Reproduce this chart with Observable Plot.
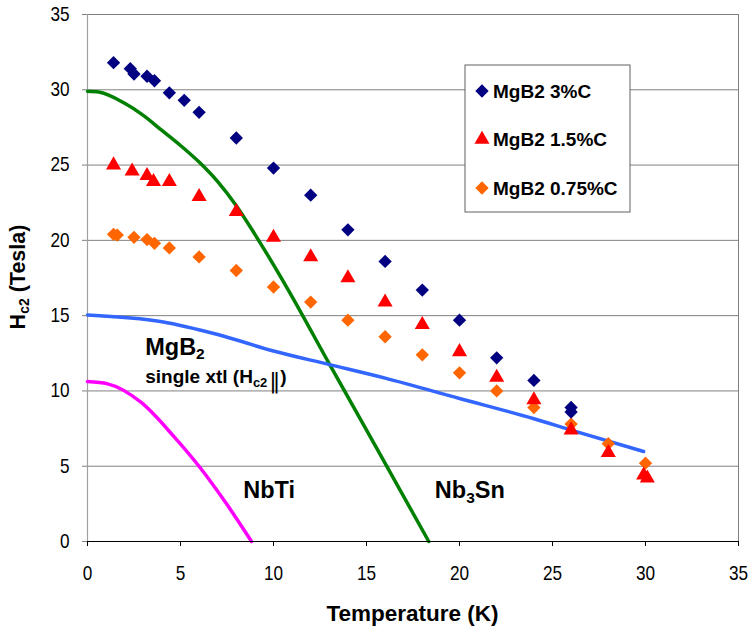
<!DOCTYPE html>
<html>
<head>
<meta charset="utf-8">
<script src="https://cdn.jsdelivr.net/npm/d3@7"></script>
<script src="https://cdn.jsdelivr.net/npm/@observablehq/plot@0.6"></script>
<style>
  html, body { margin: 0; padding: 0; background: #fff; }
  #chart { width: 751px; height: 627px; }
  svg text { font-family: "Liberation Sans", Arial, sans-serif; }
</style>
</head>
<body>
<div id="chart"></div>
<script>
// ---- data ----
const xTicks = [0, 5, 10, 15, 20, 25, 30, 35];
const yTicks = [0, 5, 10, 15, 20, 25, 30, 35];

const seriesNames = ["MgB2 3%C", "MgB2 1.5%C", "MgB2 0.75%C"];
const seriesColors = ["#000080", "#ff0000", "#ff6600"];
const seriesSymbols = ["diamond2", "triangle", "diamond2"];

const temp3C = [1.4, 2.3, 2.5, 3.2, 3.6, 4.4, 5.2, 6.0, 8.0, 10.0, 12.0, 14.0, 16.0, 18.0, 20.0, 22.0, 24.0, 26.0, 26.0];
const hc2_3C = [31.8, 31.4, 31.05, 30.9, 30.6, 29.8, 29.3, 28.5, 26.8, 24.8, 23.0, 20.7, 18.6, 16.7, 14.7, 12.2, 10.7, 8.9, 8.6];

const temp15C = [1.4, 2.4, 3.2, 3.55, 4.4, 6.0, 8.0, 10.0, 12.0, 14.0, 16.0, 18.0, 20.0, 22.0, 24.0, 26.0, 28.0, 29.9, 30.1];
const hc2_15C = [25.0, 24.6, 24.3, 23.9, 23.9, 22.9, 21.9, 20.2, 18.9, 17.5, 15.9, 14.4, 12.6, 10.9, 9.4, 7.4, 5.9, 4.4, 4.2];

const temp075C = [1.4, 1.6, 2.5, 3.2, 3.6, 4.4, 6.0, 8.0, 10.0, 12.0, 14.0, 16.0, 18.0, 20.0, 22.0, 24.0, 26.0, 28.0, 30.0];
const hc2_075C = [20.4, 20.35, 20.2, 20.05, 19.8, 19.5, 18.9, 18.0, 16.9, 15.9, 14.7, 13.6, 12.4, 11.2, 10.0, 8.9, 7.8, 6.5, 5.2];

// curves
const nb3snT = [0, 0.6, 2, 3, 4, 5, 6, 7, 8, 9, 10.75, 13.0, 15.5, 18.35];
const nb3snH = [29.9, 29.85, 29.1, 28.3, 27.3, 26.3, 25.2, 23.9, 22.3, 20.4, 16.8, 11.8, 6.3, 0];

const xtlT = [0, 4, 7, 10, 13, 16, 20, 24, 26, 29.9];
const xtlH = [15.05, 14.6, 13.75, 12.65, 11.75, 10.85, 9.5, 8.15, 7.4, 5.98];

const nbtiT = [0, 1.08, 2.87, 4.66, 6.09, 7.53, 8.82];
const nbtiH = [10.62, 10.47, 9.25, 6.95, 4.85, 2.4, 0];

const curveColors = {nbti: "#ff00ff", nb3sn: "#008000", xtl: "#3366ff"};

// ---- build tables ----
const pts = (T, H) => T.map((t, i) => ({T: t, H: H[i]}));

const R_DIAMOND = 6.0, R_TRI = 5.6;
const radii = seriesSymbols.map(s => s === "triangle" ? R_TRI : R_DIAMOND);
const seriesData = [pts(temp3C, hc2_3C), pts(temp15C, hc2_15C), pts(temp075C, hc2_075C)];
const drawOrder = [2, 1, 0];

const plot = Plot.plot({
  width: 751,
  height: 627,
  marginLeft: 87,
  marginRight: 13,
  marginTop: 14,
  marginBottom: 86,
  style: {background: "#fff", overflow: "visible"},
  x: {domain: [0, 35]},
  y: {domain: [0, 35]},
  marks: [
    Plot.gridY(yTicks, {stroke: "#808080", strokeOpacity: 1, strokeWidth: 1}),
    Plot.ruleX([0], {stroke: "#a0a0a0", strokeWidth: 1.2}),
    Plot.ruleX([35], {stroke: "#808080", strokeWidth: 1}),
    Plot.line(pts(nbtiT, nbtiH), {x: "T", y: "H", stroke: curveColors.nbti, strokeWidth: 3.5, curve: "monotone-x"}),
    Plot.line(pts(nb3snT, nb3snH), {x: "T", y: "H", stroke: curveColors.nb3sn, strokeWidth: 3.5, curve: "monotone-x"}),
    Plot.line(pts(xtlT, xtlH), {x: "T", y: "H", stroke: curveColors.xtl, strokeWidth: 3.5, curve: "monotone-x"}),
    ...drawOrder.map(i => Plot.dot(seriesData[i], {
      x: "T", y: "H", symbol: seriesSymbols[i], fill: seriesColors[i], stroke: "none", r: radii[i]
    })),
    Plot.ruleY([0], {stroke: "#000", strokeWidth: 1.2}),
    Plot.axisX(xTicks, {tickSize: 5, tickPadding: 19, fontSize: 20, label: null, stroke: "#000", fill: "#000"}),
    Plot.axisY(yTicks, {tickSize: 5, tickPadding: 13, fontSize: 20, label: null, stroke: "#808080", fill: "#000"})
  ]
});

document.getElementById("chart").appendChild(plot);

const svg = d3.select(plot);
const sx = plot.scale("x"), sy = plot.scale("y");

// squeeze tick labels horizontally to match the reference's narrow numerals
svg.selectAll('g[aria-label="x-axis tick label"] text, g[aria-label="y-axis tick label"] text')
  .each(function() {
    const t = d3.select(this);
    t.attr("transform", (t.attr("transform") || "") + " scale(0.86,1)");
  });

const FONT = '"Liberation Sans", Arial, sans-serif';

// axis titles
svg.append("text")
  .attr("x", (87 + 738) / 2).attr("y", 621)
  .attr("text-anchor", "middle")
  .attr("font-family", FONT).attr("font-weight", "bold").attr("font-size", 22.5)
  .text("Temperature (K)");

const yt = svg.append("text")
  .attr("transform", "translate(25,277) rotate(-90)")
  .attr("text-anchor", "middle")
  .attr("font-family", FONT).attr("font-weight", "bold").attr("font-size", 21.5);
yt.append("tspan").text("H");
yt.append("tspan").attr("font-size", 14).attr("dy", 4).text("c2");
yt.append("tspan").attr("dy", -4).text(" (Tesla)");

// annotations (anchored in data coordinates)
const annotations = [
  {key: "mgb2", T: 3.13, H: 12.35},
  {key: "xtl", T: 3.13, H: 10.5},
  {key: "nbti", T: 8.4, H: 2.85},
  {key: "nb3sn", T: 18.7, H: 2.85}
];
const ann = Object.fromEntries(annotations.map(a => [a.key, a]));
const mkText = (a, size) => svg.append("text")
  .attr("x", sx.apply(a.T)).attr("y", sy.apply(a.H))
  .attr("text-anchor", "start")
  .attr("font-family", FONT).attr("font-weight", "bold").attr("font-size", size);

const t1 = mkText(ann.mgb2, 23.5);
t1.append("tspan").text("MgB");
t1.append("tspan").attr("font-size", 15.5).attr("dy", 4).text("2");

const t2 = mkText(ann.xtl, 19);
t2.append("tspan").text("single xtl (H");
t2.append("tspan").attr("font-size", 13).attr("dy", 4).text("c2");
t2.append("tspan").attr("dy", 1).attr("font-weight", "normal").attr("font-family", "DejaVu Sans").attr("font-size", 22).attr("dx", 2).text("\u2016");
t2.append("tspan").attr("dy", -5).text(")");

mkText(ann.nbti, 23.5).text("NbTi");

const t4 = mkText(ann.nb3sn, 23.5);
t4.append("tspan").text("Nb");
t4.append("tspan").attr("font-size", 15.5).attr("dy", 5).text("3");
t4.append("tspan").attr("dy", -5).text("Sn");

// legend box
const lg = svg.append("g").attr("transform", "translate(465,65)");
lg.append("rect").attr("width", 165).attr("height", 147)
  .attr("fill", "#fff").attr("stroke", "#606060").attr("stroke-width", 1);
const symMap = {diamond2: d3.symbolDiamond2, triangle: d3.symbolTriangle};
seriesNames.forEach((name, i) => {
  const cy = 26 + i * 48.5;
  lg.append("path")
    .attr("transform", `translate(17,${cy})`)
    .attr("d", d3.symbol(symMap[seriesSymbols[i]], Math.PI * radii[i] * radii[i])())
    .attr("fill", seriesColors[i]);
  lg.append("text")
    .attr("x", 28).attr("y", cy + 6.5)
    .attr("text-anchor", "start")
    .attr("font-family", FONT).attr("font-weight", "bold").attr("font-size", 19)
    .text(name);
});
</script>
</body>
</html>
